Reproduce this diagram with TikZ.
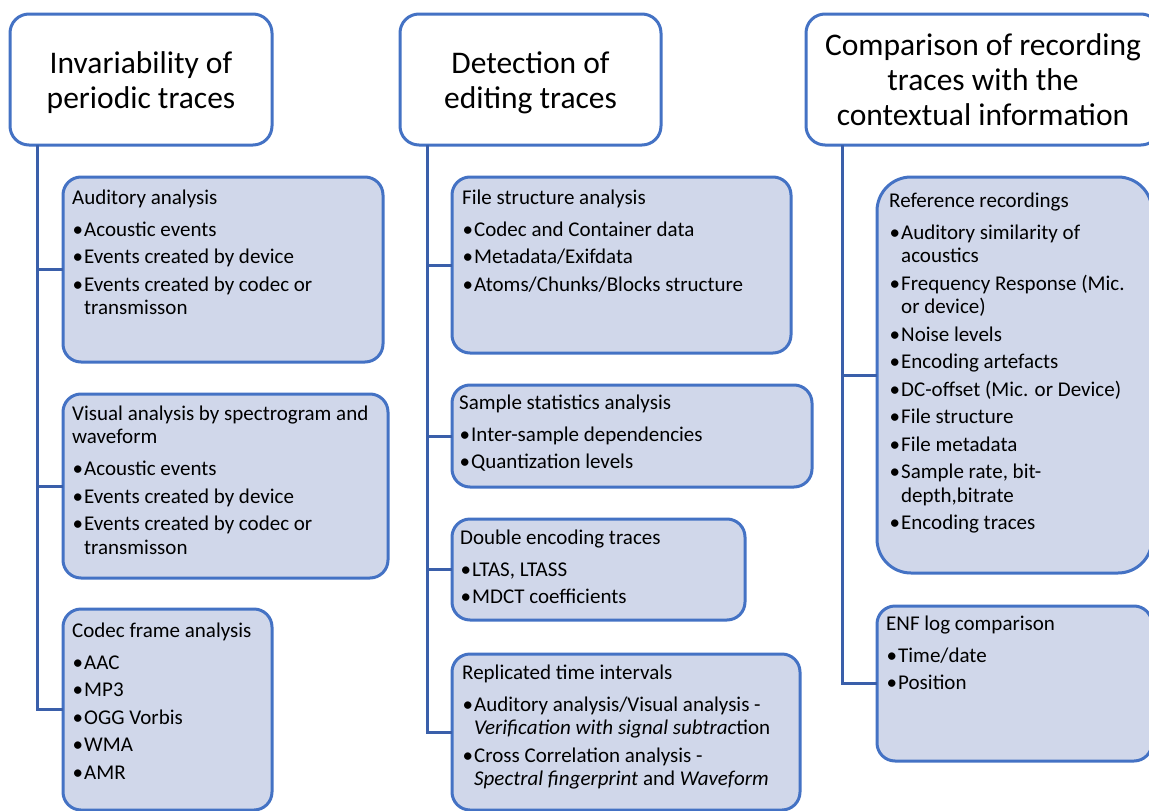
\documentclass[tikz,border=0pt]{standalone}
\usepackage{fontspec}
\setmainfont{Carlito}
\definecolor{boxblue}{RGB}{68,114,196}
\definecolor{connblue}{RGB}{58,95,170}
\definecolor{boxfill}{RGB}{208,215,234}
\newcommand\bodyfont{\fontsize{21}{23.5}\selectfont}
\newcommand\hd[1]{#1\par\vspace{4.5pt}}
\newcommand\bi[1]{\par\vspace{4pt}\hangindent=12pt\hangafter=1\noindent\makebox[12pt][l]{\hspace{0.3pt}\textbullet}#1}
\newcommand\content[1]{\parbox[t]{420pt}{\bodyfont\parindent=0pt\parskip=0pt #1}}
\newcommand\upstrut{\rule{0pt}{28pt}}
\tikzset{
  conn/.style={draw=connblue, line width=3pt},
  titlebox/.style={draw=boxblue, line width=3pt, fill=white, rounded corners=19pt,
    anchor=north west, outer sep=0pt, inner sep=0pt, align=center,
    font=\fontsize{31.5}{35}\selectfont, minimum height=131pt},
  itembox/.style={draw=boxblue, line width=3pt, fill=boxfill, rounded corners=18pt,
    anchor=north west, outer sep=0pt, inner sep=0pt},
  btext/.style={inner sep=0pt, anchor=base west},
}
\begin{document}
\begin{tikzpicture}[x=1pt,y=-1pt]
\useasboundingbox (0,0) rectangle (1149,811);
\clip (0,0) rectangle (1149,811);

% title boxes
\node[titlebox, minimum width=262pt] (T1) at (10,14) {\upstrut Invariability of\\periodic traces};
\node[titlebox, minimum width=261pt] (T2) at (400,14) {\upstrut Detection of\\editing traces};
\node[titlebox, minimum width=354pt] (T3) at (806,14) {Comparison of recording\\traces with the\\contextual information};

% attachment points of the connectors
\coordinate (v1) at (37,145);
\coordinate (v2) at (427,145);
\coordinate (v3) at (842,145);

% item boxes (shapes only)
\node[itembox, minimum width=320pt, minimum height=185pt] (A) at (63,177) {};
\node[itembox, minimum width=325pt, minimum height=184pt] (B) at (63,394) {};
\node[itembox, minimum width=209pt, minimum height=201pt] (C) at (63,609) {};
\node[itembox, minimum width=339pt, minimum height=176pt] (D) at (452,177) {};
\node[itembox, minimum width=360pt, minimum height=102pt] (E) at (452,385) {};
\node[itembox, minimum width=293pt, minimum height=101pt] (F) at (452,519) {};
\node[itembox, minimum width=348pt, minimum height=156pt] (G) at (452,654) {};
\node[itembox, minimum width=275pt, minimum height=396pt, rounded corners=34pt] (H) at (877,177) {};
\node[itembox, minimum width=275pt, minimum height=155pt] (I) at (877,606) {};

% connectors
\draw[conn] (v1) |- (A.west);
\draw[conn] (v1) |- (B.west);
\draw[conn] (v1) |- (C.west);
\draw[conn] (v2) |- (D.west);
\draw[conn] (v2) |- (E.west);
\draw[conn] (v2) |- (F.west);
\draw[conn] (v2) |- (G.west);
\draw[conn] (v3) |- (H.west);
\draw[conn] (v3) |- (I.west);

% texts
\node[btext] (At) at (72,204) {\content{\hd{Auditory analysis}
  \bi{Acoustic events}
  \bi{Events created by device}
  \bi{Events created by codec or\newline transmisson}}};
\node[btext] (Bt) at (72,420) {\content{Visual analysis by spectrogram and\newline waveform\par\vspace{4.5pt}
  \bi{Acoustic events}
  \bi{Events created by device}
  \bi{Events created by codec or\newline transmisson}}};
\node[btext] (Ct) at (72,637) {\content{\hd{Codec frame analysis}
  \bi{AAC}
  \bi{MP3}
  \bi{OGG Vorbis}
  \bi{WMA}
  \bi{AMR}}};
\node[btext] (Dt) at (462,204) {\content{\hd{File structure analysis}
  \bi{Codec and Container data}
  \bi{Metadata/Exifdata}
  \bi{Atoms/Chunks/Blocks structure}}};
\node[btext] (Et) at (459,409) {\content{\hd{Sample statistics analysis}
  \bi{Inter-sample dependencies}
  \bi{Quantization levels}}};
\node[btext] (Ft) at (460,544) {\content{\hd{Double encoding traces}
  \bi{LTAS, LTASS}
  \bi{MDCT coefficients}}};
\node[btext] (Gt) at (462,679) {\content{\hd{Replicated time intervals}
  \bi{Auditory analysis/Visual analysis -\newline \textit{Verification with signal subtrac}tion}
  \bi{Cross Correlation analysis -\newline \textit{Spectral fingerprint} and \textit{Waveform}}}};
\node[btext] (Ht) at (889,207) {\content{\hd{Reference recordings}
  \bi{Auditory similarity of\newline acoustics}
  \bi{Frequency Response (Mic.\newline or device)}
  \bi{Noise levels}
  \bi{Encoding artefacts}
  \bi{DC-offset (Mic. or Device)}
  \bi{File structure}
  \bi{File metadata}
  \bi{Sample rate, bit-\newline depth,bitrate}
  \bi{Encoding traces}}};
\node[btext] (It) at (886,630) {\content{\hd{ENF log comparison}
  \bi{Time/date}
  \bi{Position}}};
\end{tikzpicture}
\end{document}
